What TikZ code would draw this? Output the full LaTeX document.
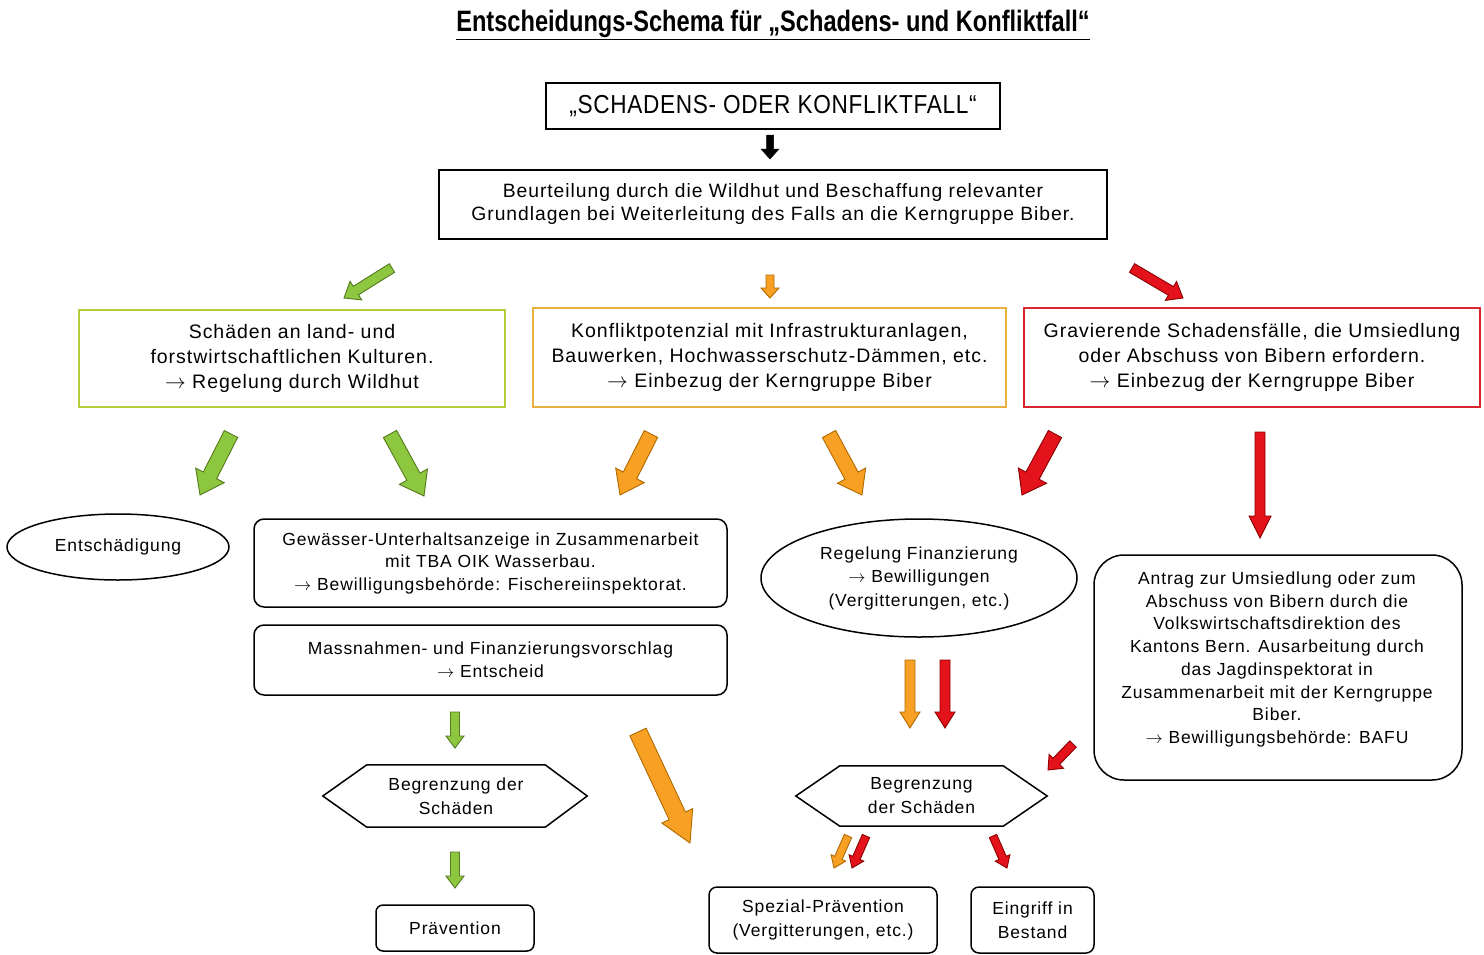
\documentclass[tikz,border=0pt]{standalone}
\usepackage{fontspec}
\setmainfont{Liberation Sans}
\newfontfamily\bodyfont[LetterSpace=5]{Liberation Sans}
\usetikzlibrary{calc,shapes.geometric}
\newcommand\ar{\ensuremath{\rightarrow}}
\definecolor{arrG}{HTML}{8DC63F}\definecolor{arrGd}{HTML}{557A1E}
\definecolor{arrO}{HTML}{F7A024}\definecolor{arrOd}{HTML}{B06A00}
\definecolor{arrR}{HTML}{E3121B}\definecolor{arrRd}{HTML}{8B0000}
\definecolor{bxG}{HTML}{B2CF3A}\definecolor{bxO}{HTML}{E9B040}\definecolor{bxR}{HTML}{D9252F}
\newcommand\blockarr[6]{%
  \path ($(#3)!#6!(#2)$) coordinate (bac);
  \filldraw[#1] ($(#2)!#4!90:(#3)$) -- ($(bac)!#4!90:(#3)$) -- ($(bac)!#5!90:(#3)$) -- (#3)
    -- ($(bac)!#5!-90:(#3)$) -- ($(bac)!#4!-90:(#3)$) -- ($(#2)!#4!-90:(#3)$) -- cycle;}
\tikzset{
  big/.style={font=\bodyfont\fontsize{19.5}{25}\selectfont, align=center},
  small/.style={font=\bodyfont\fontsize{17.5}{23}\selectfont, align=center},
  bx/.style={draw, line width=1.5pt, inner sep=0pt},
  rbx/.style={bx, rounded corners=10pt},
  ell/.style={draw, line width=1.5pt, ellipse, inner sep=0pt},
  gA/.style={fill=arrG, draw=arrGd, line width=0.9pt, line join=miter},
  oA/.style={fill=arrO, draw=arrOd, line width=0.9pt, line join=miter},
  rA/.style={fill=arrR, draw=arrRd, line width=0.9pt, line join=miter},
  kA/.style={fill=black, draw=black, line width=0.5pt},
}
\begin{document}
\begin{tikzpicture}[x=1pt, y=-1pt]
\useasboundingbox[fill=white] (0,0) rectangle (1484,954);
% title
\node (title) at (773,25) {\scalebox{0.8}[1]{\fontsize{29.5}{32}\selectfont\bfseries\underline{Entscheidungs-Schema für „Schadens- und Konfliktfall“}}};
\node[bx, minimum width=454, minimum height=46] (top) at (773,106)
  {\scalebox{0.87}[1]{\fontsize{26}{30}\selectfont\addfontfeature{LetterSpace=3} „SCHADENS- ODER KONFLIKTFALL“}};
\node[bx, big, font=\bodyfont\fontsize{19.3}{23}\selectfont, minimum width=668, minimum height=69] (beur) at (773,204.5)
  {Beurteilung durch die Wildhut und Beschaffung relevanter\\Grundlagen bei Weiterleitung des Falls an die Kerngruppe Biber.};
% level 1
\node[bx, draw=bxG, big, minimum width=426, minimum height=97] (gbox) at (292,358.5)
  {Schäden an land- und\\forstwirtschaftlichen Kulturen.\\\ar\ Regelung durch Wildhut};
\node[bx, draw=bxO, big, minimum width=473, minimum height=99] (obox) at (769.5,357.5)
  {Konfliktpotenzial mit Infrastrukturanlagen,\\Bauwerken, Hochwasserschutz-Dämmen, etc.\\\ar\ Einbezug der Kerngruppe Biber};
\node[bx, draw=bxR, big, minimum width=456, minimum height=99] (rbox) at (1252,357.5)
  {Gravierende Schadensfälle, die Umsiedlung\\oder Abschuss von Bibern erfordern.\\\ar\ Einbezug der Kerngruppe Biber};
% level 2
\node[ell, small, minimum width=222, minimum height=66] (ent) at (118,547) {Entschädigung};
\node[rbx, small, font=\bodyfont\fontsize{17.5}{22.5}\selectfont, minimum width=473, minimum height=88] (gew) at (490.5,563)
  {Gewässer-Unterhaltsanzeige in Zusammenarbeit\\mit TBA OIK Wasserbau.\\\ar\ Bewilligungsbehörde: Fischereiinspektorat.};
\node[rbx, small, minimum width=473, minimum height=70] (mass) at (490.5,660)
  {Massnahmen- und Finanzierungsvorschlag\\\ar\ Entscheid};
\node[ell, small, font=\bodyfont\fontsize{17.5}{23.5}\selectfont, minimum width=316, minimum height=118] (reg) at (919,578)
  {Regelung Finanzierung\\\ar\ Bewilligungen\\(Vergitterungen, etc.)};
\node[bx, rounded corners=30pt, minimum width=368, minimum height=225] (antrag) at (1278,667.5) {};
\node[small, font=\bodyfont\fontsize{17.5}{22.7}\selectfont] (antragtxt) at (1277,659.5)
  {Antrag zur Umsiedlung oder zum\\Abschuss von Bibern durch die\\Volkswirtschaftsdirektion des\\Kantons Bern. Ausarbeitung durch\\das Jagdinspektorat in\\Zusammenarbeit mit der Kerngruppe\\Biber.\\\ar\ Bewilligungsbehörde: BAFU};
% hexagons
\node[small, font=\bodyfont\fontsize{17.5}{24}\selectfont, minimum width=178, minimum height=62, inner sep=0pt] (hexA) at (456,796) {Begrenzung der\\Schäden};
\draw[line width=1.5pt] (hexA.north west) -- (hexA.north east) -- ($(hexA.east)+(42,0)$) -- (hexA.south east)
  -- (hexA.south west) -- ($(hexA.west)+(-44,0)$) -- cycle;
\node[small, font=\bodyfont\fontsize{17.5}{24}\selectfont, minimum width=163, minimum height=60, inner sep=0pt] (hexB) at (921.5,796) {Begrenzung\\der Schäden};
\draw[line width=1.5pt] (hexB.north west) -- (hexB.north east) -- ($(hexB.east)+(44,0)$) -- (hexB.south east)
  -- (hexB.south west) -- ($(hexB.west)+(-44,0)$) -- cycle;
% bottom
\node[rbx, rounded corners=7pt, small, minimum width=158, minimum height=46] (prav) at (455,928) {Prävention};
\node[rbx, rounded corners=8pt, small, font=\bodyfont\fontsize{17.5}{24}\selectfont, minimum width=228, minimum height=66] (spez) at (823,920) {Spezial-Prävention\\(Vergitterungen, etc.)};
\node[rbx, rounded corners=8pt, small, font=\bodyfont\fontsize{17.5}{24}\selectfont, minimum width=123, minimum height=66] (eing) at (1032.5,920) {Eingriff in\\Bestand};
% arrow end points
\coordinate (a0s) at (770,135);  \coordinate (a0e) at (770,159);
\coordinate (a1s) at (392,268);  \coordinate (a1e) at (344,298);
\coordinate (a2s) at (770,275);  \coordinate (a2e) at (770,298);
\coordinate (a3s) at (1132,268); \coordinate (a3e) at (1183,298);
\coordinate (a4s) at (231,434);  \coordinate (a4e) at (200,495);
\coordinate (a5s) at (390,434);  \coordinate (a5e) at (424,496);
\coordinate (a6s) at (651,434);  \coordinate (a6e) at (620,495);
\coordinate (a7s) at (829,434);  \coordinate (a7e) at (862,495);
\coordinate (a8s) at (1055,434); \coordinate (a8e) at (1022,495);
\coordinate (a9s) at (1260,432); \coordinate (a9e) at (1260,538);
\coordinate (a10s) at (455,712); \coordinate (a10e) at (455,748);
\coordinate (a11s) at (638,732); \coordinate (a11e) at (690,843);
\coordinate (a12s) at (910,660); \coordinate (a12e) at (910,728);
\coordinate (a13s) at (945,660); \coordinate (a13e) at (945,728);
\coordinate (a14s) at (1073,744);\coordinate (a14e) at (1048,770);
\coordinate (a15s) at (455,852); \coordinate (a15e) at (455,888);
\coordinate (a16s) at (848,836); \coordinate (a16e) at (834,868);
\coordinate (a17s) at (866,836); \coordinate (a17e) at (852,868);
\coordinate (a18s) at (993,836); \coordinate (a18e) at (1007,868);
% arrows
\blockarr{kA}{a0s}{a0e}{3.5pt}{9pt}{10pt}
\blockarr{gA}{a1s}{a1e}{5pt}{11pt}{14pt}
\blockarr{oA}{a2s}{a2e}{4pt}{9pt}{10pt}
\blockarr{rA}{a3s}{a3e}{5pt}{11pt}{14pt}
\blockarr{gA}{a4s}{a4e}{7.5pt}{16pt}{22pt}
\blockarr{gA}{a5s}{a5e}{7.5pt}{16pt}{22pt}
\blockarr{oA}{a6s}{a6e}{7.5pt}{16pt}{22pt}
\blockarr{oA}{a7s}{a7e}{7.5pt}{16pt}{22pt}
\blockarr{rA}{a8s}{a8e}{7.5pt}{16pt}{22pt}
\blockarr{rA}{a9s}{a9e}{5pt}{11pt}{22pt}
\blockarr{gA}{a10s}{a10e}{4.5pt}{9pt}{12pt}
\blockarr{oA}{a11s}{a11e}{9pt}{17pt}{30pt}
\blockarr{oA}{a12s}{a12e}{5pt}{10pt}{16pt}
\blockarr{rA}{a13s}{a13e}{5pt}{10pt}{16pt}
\blockarr{rA}{a14s}{a14e}{4.5pt}{10pt}{12pt}
\blockarr{gA}{a15s}{a15e}{4.5pt}{9pt}{12pt}
\blockarr{oA}{a16s}{a16e}{4pt}{8pt}{11pt}
\blockarr{rA}{a17s}{a17e}{4pt}{8pt}{11pt}
\blockarr{rA}{a18s}{a18e}{4pt}{8pt}{11pt}
\end{tikzpicture}
\end{document}
